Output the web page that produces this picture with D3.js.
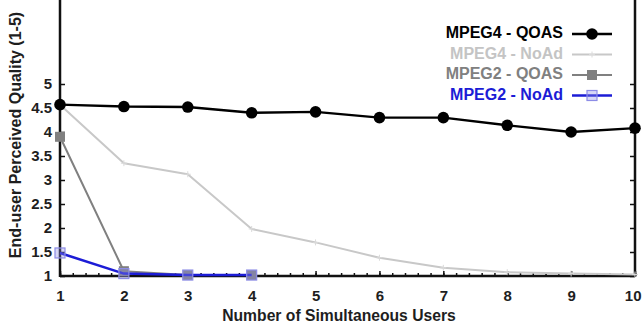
<!DOCTYPE html>
<html>
<head>
<meta charset="utf-8">
<script src="https://cdn.jsdelivr.net/npm/d3@7"></script>
<style>
  html, body { margin: 0; padding: 0; background: #fff; }
  svg { display: block; }
  text { font-family: "Liberation Sans", Arial, sans-serif; font-weight: bold; }
</style>
</head>
<body>
<svg id="chart" width="642" height="333"></svg>
<script>
const users = [1, 2, 3, 4, 5, 6, 7, 8, 9, 10];
const mpeg4Qoas = [4.57, 4.53, 4.52, 4.40, 4.42, 4.30, 4.30, 4.14, 4.00, 4.08];
const mpeg4NoAd = [4.57, 3.35, 3.12, 1.98, 1.70, 1.38, 1.17, 1.08, 1.05, 1.03];
const mpeg2Qoas = [3.90, 1.10, 1.02, 1.02];
const mpeg2NoAd = [1.48, 1.05, 1.02, 1.02];
const xTickLabels = ["1", "2", "3", "4", "5", "6", "7", "8", "9", "10"];
const yTickValues = [1, 1.5, 2, 2.5, 3, 3.5, 4, 4.5, 5];
const seriesNames = ["MPEG4 - QOAS", "MPEG4 - NoAd", "MPEG2 - QOAS", "MPEG2 - NoAd"];

(function () {
const svg = d3.select("#chart");
const pL = 60, pR = 635, pB = 276, pT = 0;

const x = d3.scaleLinear().domain([1, 10]).range([pL, pR]);
const y = d3.scaleLinear().domain([1, 5]).range([pB, 84]);
const yTop = y.invert(pT);

const series = [
  { name: seriesNames[0], values: mpeg4Qoas, color: "#000000", text: "#000000", width: 2.4, marker: "circle" },
  { name: seriesNames[1], values: mpeg4NoAd, color: "#c8c8c8", text: "#c4c4c4", width: 2, marker: "plus" },
  { name: seriesNames[2], values: mpeg2Qoas, color: "#808080", text: "#808080", width: 2, marker: "square" },
  { name: seriesNames[3], values: mpeg2NoAd, color: "#1c1cd6", text: "#1c1cd6", width: 2.5, marker: "open" }
];

const axisColor = "#111";
const labelColor = "#1e1e1e";
// bottom axis with minor ticks
const minorTicks = d3.range(1, 10.0001, 0.2).map(v => +v.toFixed(2));
svg.append("g").attr("transform", `translate(0,${pB})`)
  .call(d3.axisBottom(x).tickValues(minorTicks).tickSize(-3).tickFormat(""))
  .call(g => g.select(".domain").remove())
  .call(g => g.selectAll("line").attr("stroke", axisColor).attr("stroke-width", 1.5));
const xAxis = svg.append("g").attr("transform", `translate(0,${pB})`)
  .call(d3.axisBottom(x).tickValues(users).tickSize(-5).tickPadding(14).tickFormat((d, i) => xTickLabels[i]));
xAxis.select(".domain").remove();
xAxis.selectAll("line").attr("stroke", axisColor).attr("stroke-width", 1.5);
xAxis.selectAll("text").attr("font-size", 15).attr("fill", labelColor).attr("dy", "0.71em");
// keep the last label inside the picture
xAxis.selectAll("text").filter(d => d === users[users.length - 1])
  .attr("text-anchor", "end").attr("x", 641 - pR);

// left axis
const yAxis = svg.append("g").attr("transform", `translate(${pL},0)`)
  .call(d3.axisLeft(y).tickValues(yTickValues).tickSize(-5).tickPadding(8).tickFormat(d3.format("")));
yAxis.select(".domain").remove();
yAxis.selectAll("line").attr("stroke", axisColor).attr("stroke-width", 1.5);
yAxis.selectAll("text").attr("font-size", 15).attr("fill", labelColor);

// right axis ticks
const yAxisR = svg.append("g").attr("transform", `translate(${pR},0)`)
  .call(d3.axisRight(y).tickValues(yTickValues).tickSize(-5).tickFormat(""));
yAxisR.select(".domain").remove();
yAxisR.selectAll("line").attr("stroke", axisColor).attr("stroke-width", 1.5);

// axis lines
svg.append("line").attr("x1", pL).attr("x2", pL).attr("y1", y(yTop)).attr("y2", pB + 1)
  .attr("stroke", axisColor).attr("stroke-width", 2.5);
svg.append("line").attr("x1", pR).attr("x2", pR).attr("y1", y(yTop)).attr("y2", pB + 1)
  .attr("stroke", axisColor).attr("stroke-width", 2.5);
svg.append("line").attr("x1", pL).attr("x2", pR).attr("y1", pB).attr("y2", pB)
  .attr("stroke", axisColor).attr("stroke-width", 2.5);

// titles
svg.append("text").attr("x", 339).attr("y", 317).attr("text-anchor", "middle")
  .attr("dominant-baseline", "middle").attr("font-size", 15.7).attr("fill", labelColor)
  .text("Number of Simultaneous Users");
svg.append("text").attr("transform", "translate(17,135) rotate(-90)").attr("text-anchor", "middle")
  .attr("dominant-baseline", "middle").attr("font-size", 16).attr("fill", labelColor)
  .text("End-user Perceived Quality (1-5)");

// lines and markers
const line = d3.line().x((d, i) => x(users[i])).y(d => y(d));
function drawMarker(g, kind, cx, cy) {
  if (kind === "circle") {
    g.append("circle").attr("cx", cx).attr("cy", cy).attr("r", 5.8).attr("fill", "#000");
  } else if (kind === "square") {
    g.append("rect").attr("x", cx - 5).attr("y", cy - 5).attr("width", 10).attr("height", 10).attr("fill", "#808080");
  } else if (kind === "open") {
    g.append("rect").attr("x", cx - 5).attr("y", cy - 5).attr("width", 10).attr("height", 10)
      .attr("fill", "rgba(140,140,230,0.35)").attr("stroke", "#8c8ce6").attr("stroke-width", 1.2);
  } else if (kind === "plus") {
    g.append("path").attr("d", `M${cx - 3},${cy}H${cx + 3}M${cx},${cy - 3}V${cy + 3}`)
      .attr("stroke", "#dadada").attr("stroke-width", 1);
  }
}
const order = [1, 2, 3, 0];
order.forEach(k => {
  const s = series[k];
  const g = svg.append("g");
  g.append("path").datum(s.values).attr("d", line).attr("fill", "none")
    .attr("stroke", s.color).attr("stroke-width", s.width).attr("stroke-linejoin", "round");
  s.values.forEach((v, i) => drawMarker(g, s.marker, x(users[i]), y(v)));
});

// legend
const legend = svg.append("g");
series.forEach((s, i) => {
  const ly = 34 + i * 20.5;
  legend.append("text").attr("x", 563).attr("y", ly).attr("text-anchor", "end")
    .attr("dominant-baseline", "middle").attr("font-size", 16).attr("fill", s.text).text(s.name);
  legend.append("line").attr("x1", 572).attr("x2", 612).attr("y1", ly).attr("y2", ly)
    .attr("stroke", s.color).attr("stroke-width", s.width);
  drawMarker(legend, s.marker, 592, ly);
});
})();
</script>
</body>
</html>
